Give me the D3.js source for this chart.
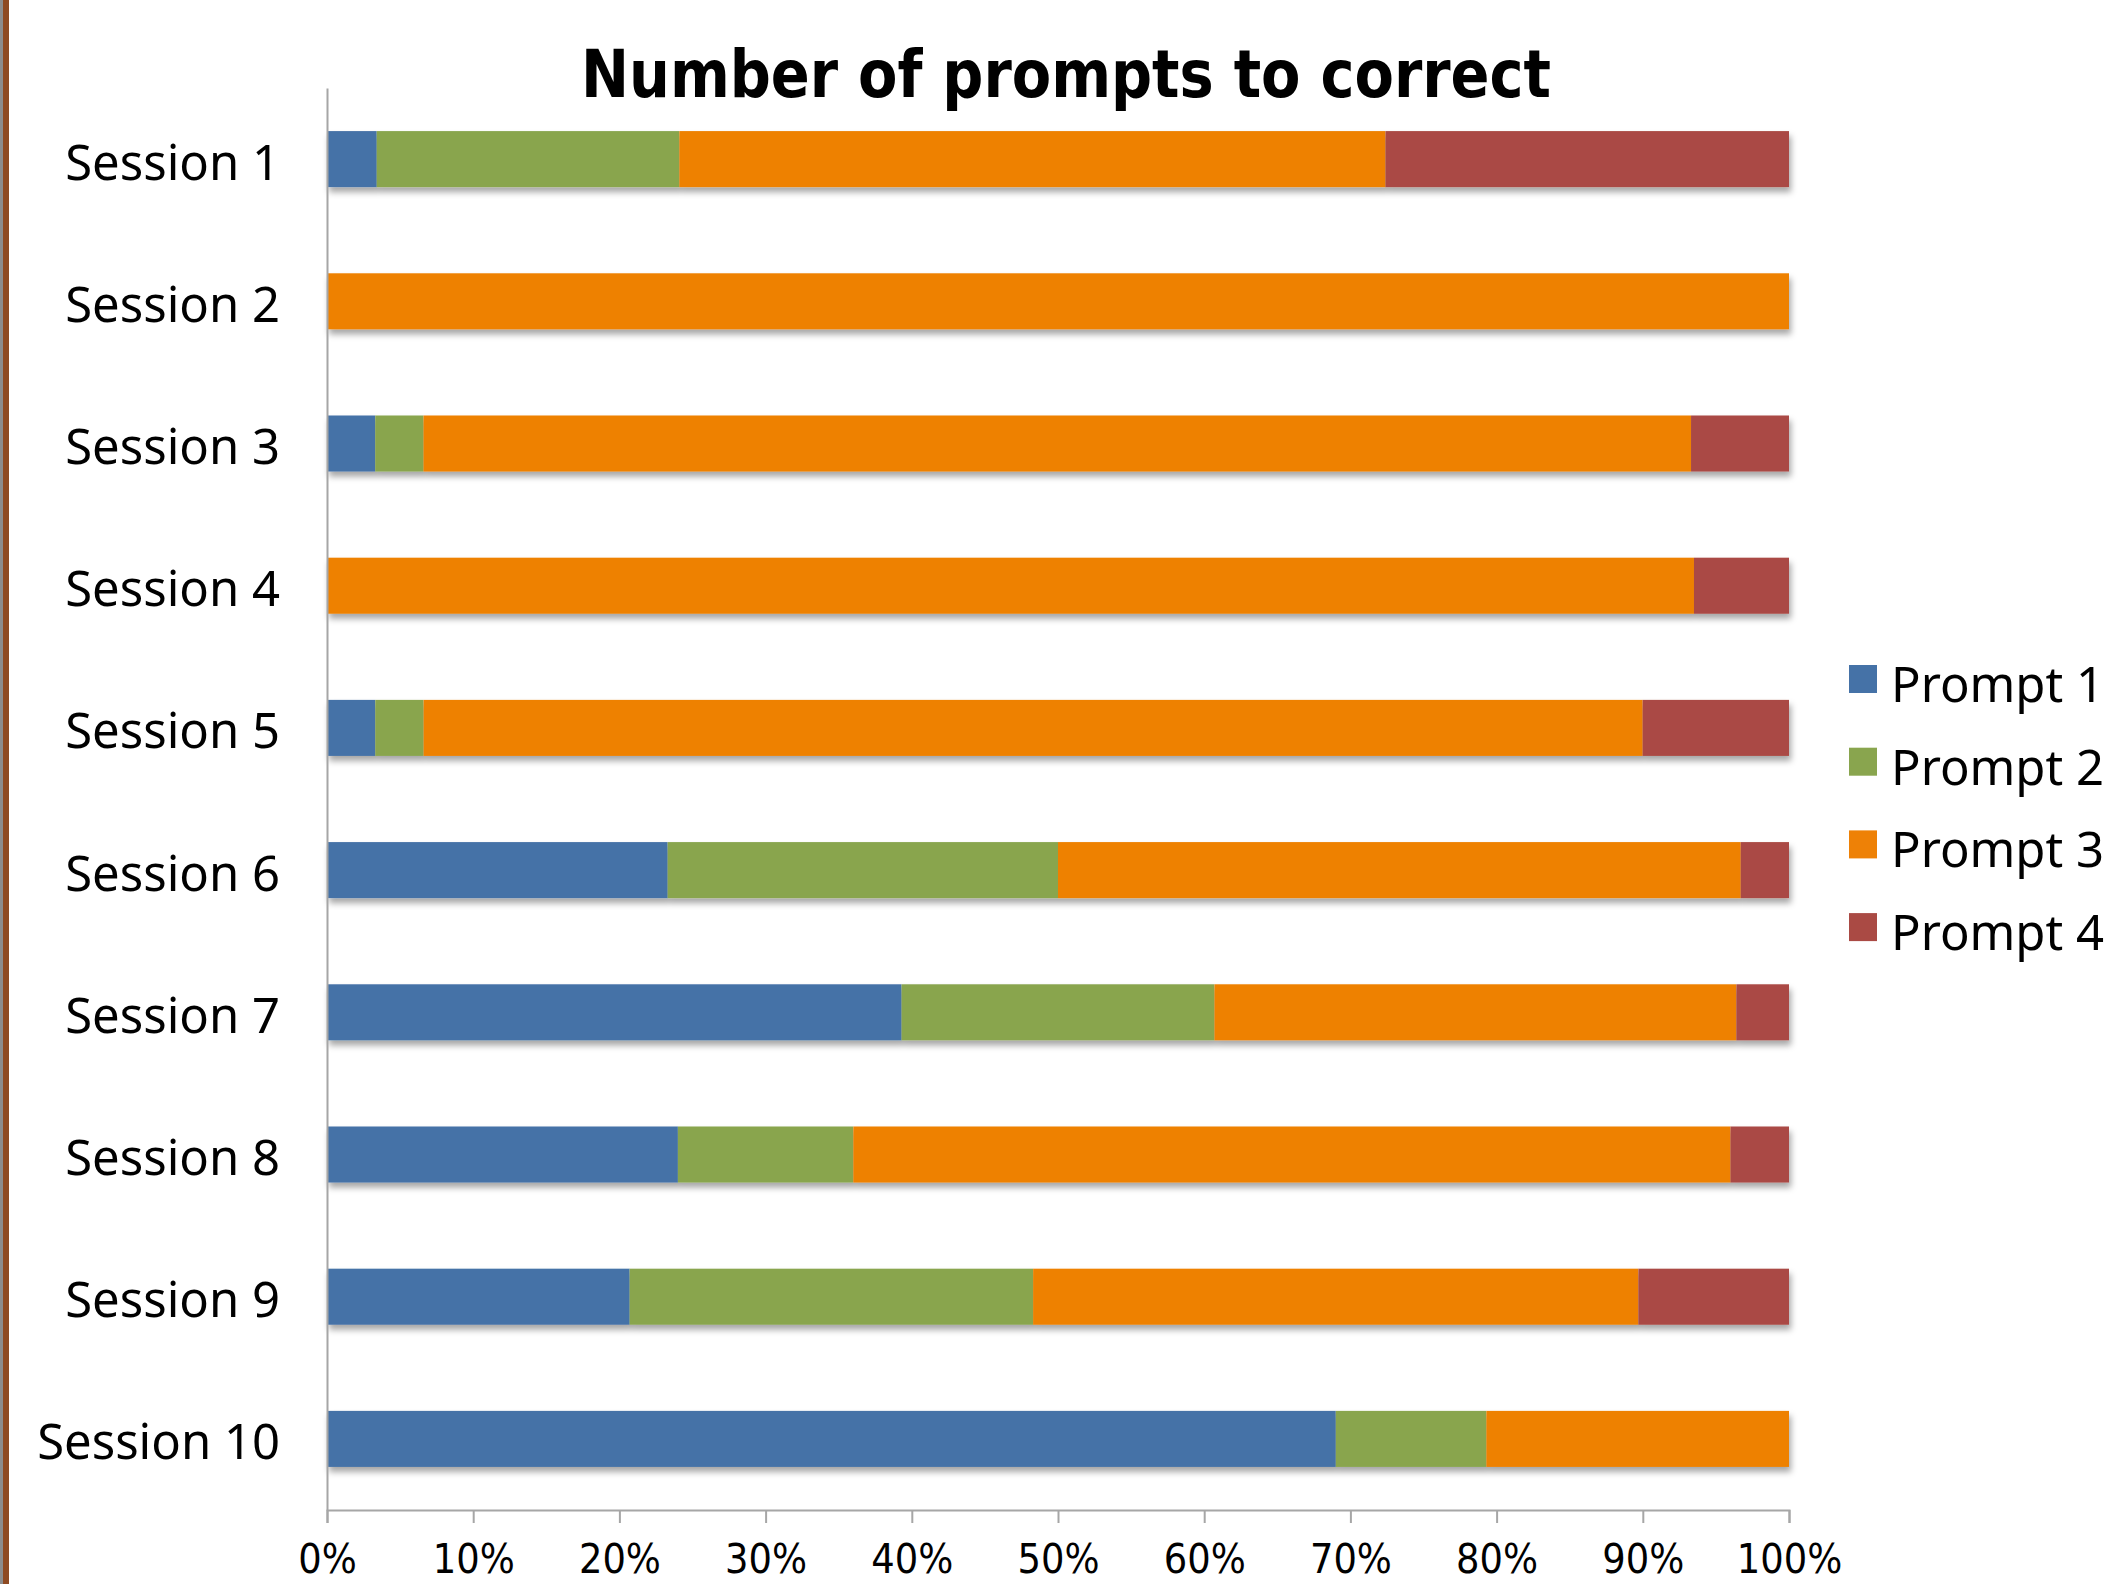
<!DOCTYPE html>
<html>
<head>
<meta charset="utf-8">
<script src="https://cdn.jsdelivr.net/npm/d3@7"></script>
<style>
  html, body { margin: 0; padding: 0; background: #fff; }
  svg { display: block; }
</style>
</head>
<body>
<svg id="vis"></svg>
<script>
const sessions = ["Session 1","Session 2","Session 3","Session 4","Session 5","Session 6","Session 7","Session 8","Session 9","Session 10"];
const prompts = ["Prompt 1","Prompt 2","Prompt 3","Prompt 4"];
// percent of each session
const prompt1 = [3.4, 0, 3.3, 0, 3.3, 23.3, 39.3, 24.0, 20.7, 69.0];
const prompt2 = [20.7, 0, 3.3, 0, 3.3, 26.7, 21.4, 12.0, 27.6, 10.3];
const prompt3 = [48.3, 100, 86.7, 93.5, 83.3, 46.7, 35.7, 60.0, 41.4, 20.7];
const prompt4 = [27.6, 0, 6.7, 6.5, 10.0, 3.3, 3.6, 4.0, 10.3, 0];
const colors = ["#4572a7", "#89a54e", "#ee8106", "#aa4a44"];

const W = 2120, H = 1584;
const plotLeft = 327, plotRight = 1789, plotTop = 88, plotBottom = 1510;
const labelFont = "'Noto Sans', 'Open Sans', sans-serif";
const narrowFont = "'Liberation Sans Narrow', 'DejaVu Sans Condensed', sans-serif";

const rows = sessions.map((s, i) => ({
    session: s,
    "Prompt 1": prompt1[i],
    "Prompt 2": prompt2[i],
    "Prompt 3": prompt3[i],
    "Prompt 4": prompt4[i]
}));

const svg = d3.select("#vis").attr("width", W).attr("height", H);

// frame edge on the left of the slide
svg.append("rect").attr("x", 0).attr("y", 0).attr("width", 3).attr("height", H).attr("fill", "#8c8c8c");
svg.append("rect").attr("x", 3).attr("y", 0).attr("width", 6).attr("height", H).attr("fill", "#8e4a22");

const defs = svg.append("defs");
defs.append("filter").attr("id", "shadow")
    .attr("x", "-5%").attr("y", "-30%").attr("width", "110%").attr("height", "180%")
    .append("feDropShadow")
    .attr("dx", 2).attr("dy", 5).attr("stdDeviation", 3)
    .attr("flood-color", "#000").attr("flood-opacity", 0.35);

const x = d3.scaleLinear().domain([0, 1]).range([plotLeft, plotRight]);
const y = d3.scaleBand().domain(sessions).range([plotTop, plotBottom])
    .paddingInner(0.606).paddingOuter(0.303);

const stack = d3.stack().keys(prompts).offset(d3.stackOffsetExpand);
const series = stack(rows);

// bars, one group per session so the shadow sits under the whole bar
const rowG = svg.append("g").selectAll("g").data(sessions).join("g")
    .attr("filter", "url(#shadow)");
rowG.selectAll("rect")
    .data((s, i) => series.map((ser, k) => ({ k: k, d: ser[i] })).filter(o => o.d[1] > o.d[0]))
    .join("rect")
    .attr("x", o => x(o.d[0]))
    .attr("width", o => x(o.d[1]) - x(o.d[0]))
    .attr("y", o => y(o.d.data.session))
    .attr("height", y.bandwidth())
    .attr("fill", o => colors[o.k]);

// axes
const xAxis = svg.append("g")
    .attr("transform", `translate(0,${plotBottom})`)
    .call(d3.axisBottom(x).ticks(10).tickFormat(d3.format(".0%")).tickSize(13).tickPadding(21));
xAxis.selectAll("text").attr("font-family", narrowFont).attr("font-size", 41)
    .attr("fill", "#000");

const yAxis = svg.append("g")
    .attr("transform", `translate(${plotLeft},0)`)
    .call(d3.axisLeft(y).tickSize(0).tickPadding(47));
yAxis.selectAll("text").attr("font-family", labelFont).attr("font-size", 49)
    .attr("dy", "0.42em").attr("fill", "#000");

svg.selectAll(".domain, .tick line").attr("stroke", "#a6a6a6").attr("stroke-width", 2);

// title
svg.append("text")
    .attr("x", 1066).attr("y", 97)
    .attr("text-anchor", "middle")
    .attr("font-family", narrowFont)
    .attr("font-weight", "bold")
    .attr("font-size", 66)
    .attr("textLength", 970)
    .attr("lengthAdjust", "spacingAndGlyphs")
    .text("Number of prompts to correct");

// legend
const legend = svg.append("g").attr("transform", "translate(1849,665)");
const item = legend.selectAll("g").data(prompts).join("g")
    .attr("transform", (d, i) => `translate(0,${i * 82.7})`);
item.append("rect").attr("width", 28).attr("height", 28).attr("fill", (d, i) => colors[i]);
item.append("text")
    .attr("x", 42).attr("y", 37)
    .attr("font-family", labelFont).attr("font-size", 49)
    .text(d => d);
</script>
</body>
</html>
